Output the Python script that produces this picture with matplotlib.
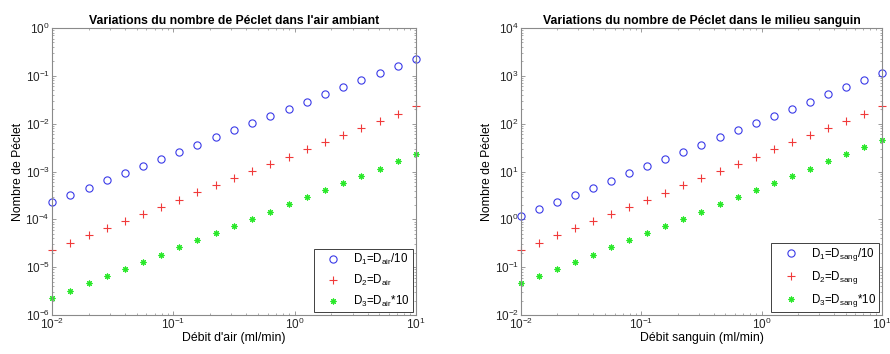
import matplotlib
matplotlib.use('Agg')
import matplotlib.pyplot as plt

plt.rcParams['font.family'] = ['Liberation Sans', 'DejaVu Sans']
plt.rcParams['mathtext.fontset'] = 'custom'
plt.rcParams['mathtext.rm'] = 'Liberation Sans'
plt.rcParams['mathtext.it'] = 'Liberation Sans:italic'
plt.rcParams['mathtext.bf'] = 'Liberation Sans:bold'

# debit (ml/min), 21 points log-spaced from 0.01 to 10
debit = [0.01, 0.0141, 0.02, 0.0282, 0.0398, 0.0562, 0.0794, 0.112, 0.158, 0.224,
         0.316, 0.447, 0.631, 0.891, 1.26, 1.78, 2.51, 3.55, 5.01, 7.08, 10.0]

# Peclet in air: proportional to debit
pe_air_d1 = [2.3e-4, 3.25e-4, 4.6e-4, 6.5e-4, 9.15e-4, 1.29e-3, 1.83e-3, 2.58e-3, 3.64e-3, 5.15e-3,
             7.27e-3, 1.03e-2, 1.45e-2, 2.05e-2, 2.9e-2, 4.09e-2, 5.77e-2, 8.17e-2, 0.115, 0.163, 0.23]
pe_air_d2 = [2.3e-5, 3.25e-5, 4.6e-5, 6.5e-5, 9.15e-5, 1.29e-4, 1.83e-4, 2.58e-4, 3.64e-4, 5.15e-4,
             7.27e-4, 1.03e-3, 1.45e-3, 2.05e-3, 2.9e-3, 4.09e-3, 5.77e-3, 8.17e-3, 1.15e-2, 1.63e-2, 2.3e-2]
pe_air_d3 = [2.3e-6, 3.25e-6, 4.6e-6, 6.5e-6, 9.15e-6, 1.29e-5, 1.83e-5, 2.58e-5, 3.64e-5, 5.15e-5,
             7.27e-5, 1.03e-4, 1.45e-4, 2.05e-4, 2.9e-4, 4.09e-4, 5.77e-4, 8.17e-4, 1.15e-3, 1.63e-3, 2.3e-3]

# Peclet in blood
pe_sang_d1 = [1.15, 1.62, 2.3, 3.24, 4.58, 6.46, 9.13, 12.9, 18.2, 25.8,
              36.3, 51.4, 72.6, 102.5, 145, 205, 289, 408, 576, 814, 1150]
pe_sang_d2 = [0.23, 0.325, 0.46, 0.649, 0.915, 1.29, 1.83, 2.58, 3.63, 5.15,
              7.27, 10.3, 14.5, 20.5, 29.0, 40.9, 57.7, 81.7, 115, 163, 230]
pe_sang_d3 = [0.046, 0.065, 0.092, 0.13, 0.183, 0.258, 0.365, 0.515, 0.727, 1.03,
              1.45, 2.06, 2.9, 4.1, 5.8, 8.18, 11.5, 16.3, 23.0, 32.6, 46.0]

BLUE = '#3a3ae8'
RED = '#f03a3a'
GREEN = '#2ae82a'
EDGE = '#8a8a8a'

fig = plt.figure(figsize=(8.9, 3.54), dpi=100)
ax1 = fig.add_axes([52 / 890, 1 - 315 / 354, (416 - 52) / 890, (315 - 28) / 354])
ax2 = fig.add_axes([521 / 890, 1 - 315 / 354, (882 - 521) / 890, (315 - 28) / 354])


def draw(ax, y1, y2, y3, labels, ylim, title, xlabel):
    ax.plot(debit, y1, 'o', ls='none', mfc='none', mec=BLUE, ms=5.2, mew=0.8, label=labels[0], clip_on=False)
    ax.plot(debit, y2, '+', ls='none', color=RED, ms=5.5, mew=0.8, label=labels[1], clip_on=False)
    ax.plot(debit, y3, marker=(8, 2, 0), ls='none', color=GREEN, ms=4.2, mew=0.8, label=labels[2], clip_on=False)
    ax.set_xscale('log')
    ax.set_yscale('log')
    ax.set_xlim(0.01, 10)
    ax.set_ylim(*ylim)
    ax.set_title(title, fontsize=8.8, fontweight='bold', pad=3)
    ax.set_xlabel(xlabel, fontsize=8.8, labelpad=0)
    ax.set_ylabel('Nombre de Péclet', fontsize=8.8, labelpad=1)
    ax.tick_params(which='both', direction='in', top=True, right=True, colors=EDGE,
                   labelcolor='#262626', labelsize=8.5, pad=1.5)
    ax.tick_params(which='major', length=3, width=0.6)
    ax.tick_params(which='minor', length=1.7, width=0.5)
    for sp in ax.spines.values():
        sp.set_color(EDGE)
        sp.set_linewidth(0.8)
    leg = ax.legend(loc='lower right', fontsize=8.3, fancybox=False, framealpha=1,
                    borderaxespad=0.3, handlelength=2.9, handletextpad=0.25,
                    labelspacing=0.5, borderpad=0.25)
    leg.get_frame().set_edgecolor('#404040')
    leg.get_frame().set_linewidth(0.7)


draw(ax1, pe_air_d1, pe_air_d2, pe_air_d3,
     [r'D$_1$=D$_{\mathrm{air}}$/10', r'D$_2$=D$_{\mathrm{air}}$', r'D$_3$=D$_{\mathrm{air}}$*10'],
     (1e-6, 1e0), "Variations du nombre de Péclet dans l'air ambiant", "Débit d'air (ml/min)")
draw(ax2, pe_sang_d1, pe_sang_d2, pe_sang_d3,
     [r'D$_1$=D$_{\mathrm{sang}}$/10', r'D$_2$=D$_{\mathrm{sang}}$', r'D$_3$=D$_{\mathrm{sang}}$*10'],
     (1e-2, 1e4), "Variations du nombre de Péclet dans le milieu sanguin", "Débit sanguin (ml/min)")

fig.savefig('out.png', dpi=100)
